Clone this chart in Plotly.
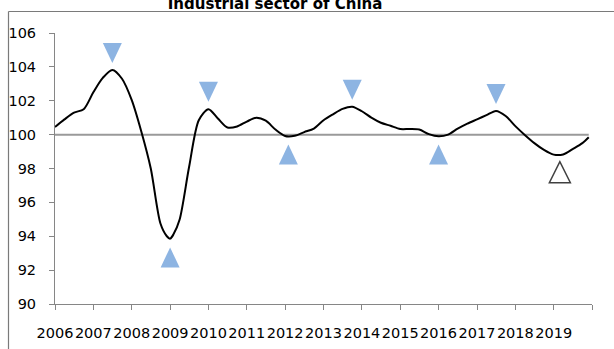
import plotly.graph_objects as go

# Composite indicator for the industrial sector (index, 100 = trend)
dates = [
    "2006-01", "2006-04", "2006-07", "2006-10",
    "2007-01", "2007-04", "2007-07", "2007-10",
    "2008-01", "2008-04", "2008-07", "2008-10", "2008-12",
    "2009-01", "2009-02", "2009-04", "2009-07", "2009-10",
    "2010-01", "2010-04", "2010-07", "2010-10",
    "2011-01", "2011-04", "2011-07", "2011-10",
    "2012-01", "2012-04", "2012-07", "2012-10",
    "2013-01", "2013-04", "2013-07", "2013-10",
    "2014-01", "2014-04", "2014-07", "2014-10",
    "2015-01", "2015-04", "2015-07", "2015-10",
    "2016-01", "2016-04", "2016-07", "2016-10",
    "2017-01", "2017-04", "2017-07", "2017-10",
    "2018-01", "2018-04", "2018-07", "2018-10",
    "2019-01", "2019-04", "2019-07", "2019-10", "2019-12",
]
index_values = [
    100.45, 100.9, 101.3, 101.5,
    102.5, 103.35, 103.82, 103.3,
    102.05, 100.2, 98.0, 94.75, 94.0,
    93.86, 94.1, 94.97, 98.1, 100.85,
    101.5, 100.95, 100.42, 100.48,
    100.77, 101.0, 100.82, 100.3,
    99.92, 99.93, 100.15, 100.36,
    100.85, 101.2, 101.52, 101.65,
    101.38, 101.0, 100.7, 100.52,
    100.33, 100.33, 100.3, 100.03,
    99.9, 100.0, 100.35, 100.65,
    100.9, 101.15, 101.4, 101.1,
    100.5, 99.98, 99.5, 99.1,
    98.82, 98.83, 99.15, 99.5, 99.85,
]

# Turning points: peaks (marked above) and troughs (marked below)
peak_dates = ["2007-07", "2010-01", "2013-10", "2017-07"]
peak_marks = [104.82, 102.53, 102.65, 102.4]
trough_dates = ["2009-01", "2012-02", "2016-01"]
trough_marks = [92.75, 98.83, 98.83]
# Tentative (not yet confirmed) trough
pending_dates = ["2019-03"]
pending_marks = [97.78]

reference_level = 100
year_ticks = list(range(2006, 2021))
year_labels = [str(y) for y in range(2006, 2020)] + [""]

MARK_BLUE = "#8DB4E2"
AXIS_GREY = "#868686"
FRAME_GREY = "#7a7a7a"
FONT = "DejaVu Sans"

W, H = 614, 349
M_L, M_R, M_T, M_B = 55, 22, 33, 45
PLOT_W, PLOT_H = W - M_L - M_R, H - M_T - M_B

fig = go.Figure()

fig.add_trace(go.Scatter(
    x=dates, y=index_values, mode="lines",
    line=dict(color="black", width=2, shape="spline", smoothing=0.8),
    showlegend=False, hoverinfo="x+y",
))

# Reference line at the trend level
fig.add_shape(type="line", xref="x", yref="y",
              x0=dates[0], x1=dates[-1], y0=reference_level, y1=reference_level,
              line=dict(color="#9a9a9a", width=2), layer="below")

# Triangle glyphs, sized in pixels and anchored at the data points
DOWN = "M -9.5,10 L 9.5,10 L 0,-10 Z"
UP = "M -9.5,-10 L 9.5,-10 L 0,10 Z"
UP_OPEN = "M -10.5,-10.5 L 10.5,-10.5 L 0,10.5 Z"

for d, v in zip(peak_dates, peak_marks):
    fig.add_shape(type="path", xref="x", yref="y", xsizemode="pixel", ysizemode="pixel",
                  xanchor=d, yanchor=v, path=DOWN,
                  fillcolor=MARK_BLUE, line=dict(width=0))
for d, v in zip(trough_dates, trough_marks):
    fig.add_shape(type="path", xref="x", yref="y", xsizemode="pixel", ysizemode="pixel",
                  xanchor=d, yanchor=v, path=UP,
                  fillcolor=MARK_BLUE, line=dict(width=0))
for d, v in zip(pending_dates, pending_marks):
    fig.add_shape(type="path", xref="x", yref="y", xsizemode="pixel", ysizemode="pixel",
                  xanchor=d, yanchor=v, path=UP_OPEN,
                  fillcolor="white", line=dict(color="#404040", width=1.5))

# Outer chart frame (runs past the right and bottom edges of the page)
frame_left = (8.5 - M_L) / PLOT_W
frame_top = 1 + (M_T - 11.5) / PLOT_H
fig.add_shape(type="line", xref="x domain", yref="y domain",
              x0=frame_left, x1=1.2, y0=frame_top, y1=frame_top,
              line=dict(color=FRAME_GREY, width=1.2), layer="above")
fig.add_shape(type="line", xref="x domain", yref="y domain",
              x0=frame_left, x1=frame_left, y0=-0.3, y1=frame_top,
              line=dict(color=FRAME_GREY, width=1.2), layer="above")

fig.update_layout(
    width=W, height=H,
    margin=dict(l=M_L, r=M_R, t=M_T, b=M_B, autoexpand=False),
    paper_bgcolor="white", plot_bgcolor="white",
    font=dict(family=FONT, size=14, color="black"),
    title=dict(text="<b>Industrial sector of China</b>", x=0.448, xanchor="center",
               xref="container", yref="container", y=0.975, yanchor="bottom",
               font=dict(family=FONT, size=15, color="black")),
    showlegend=False,
)

fig.update_xaxes(
    type="date",
    range=["2006-01-01", "2020-01-01"],
    tickvals=[f"{y}-01-01" for y in year_ticks],
    ticktext=year_labels,
    tickangle=0, automargin=False,
    ticks="outside", ticklen=5, tickcolor=AXIS_GREY,
    showline=True, linecolor=AXIS_GREY, linewidth=1,
    showgrid=False, zeroline=False,
    tickfont=dict(family=FONT, size=14.5, color="black"),
    ticklabelstandoff=11,
)
fig.update_yaxes(
    range=[90, 106], automargin=False,
    tickvals=list(range(90, 107, 2)),
    ticks="outside", ticklen=5, tickcolor=AXIS_GREY,
    showline=True, linecolor=AXIS_GREY, linewidth=1,
    showgrid=False, zeroline=False,
    tickfont=dict(family=FONT, size=14.5, color="black"),
    ticklabelstandoff=10,
)

fig.write_html("out.html")
